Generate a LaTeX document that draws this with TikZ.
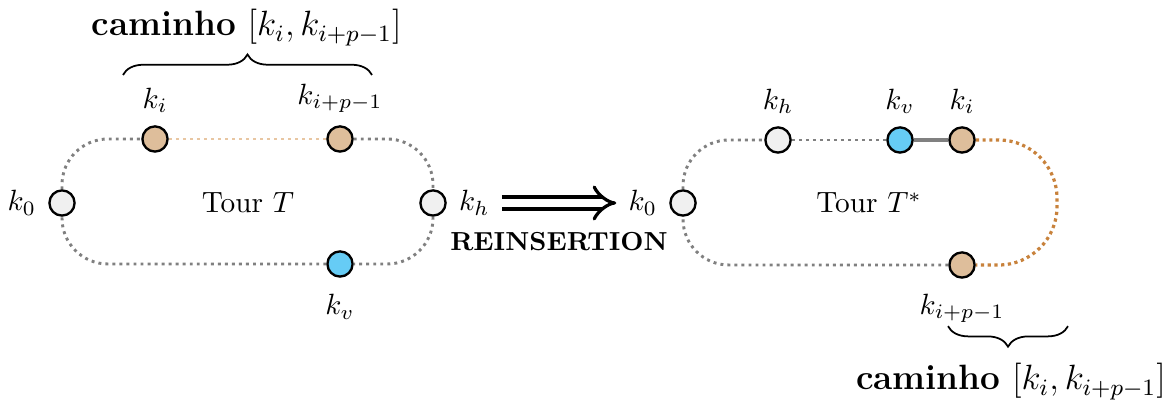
\documentclass[tikz,border=0pt]{standalone}
\usepackage{amsmath}
\usepackage{tikz}
\usetikzlibrary{positioning, arrows.meta, calc, decorations.pathreplacing}
\definecolor{myGray}{HTML}{F0F0F0}
\definecolor{myTan}{HTML}{DEBE9B}
\definecolor{mySky}{HTML}{66CCF5}
\definecolor{myEdge}{HTML}{808080}
\definecolor{myPeach}{HTML}{E8C6A2}
\definecolor{myRust}{HTML}{C8823C}

\begin{document}
\begin{tikzpicture}[
  city/.style={circle, draw=black, thick, minimum size=8.6pt, inner sep=0pt},
  lbl/.style={inner sep=2pt},
  tour/.style={myEdge, line width=1pt, dash pattern=on 1pt off 1.4pt,
               rounded corners=0.55cm},
  seg/.style={tour, myPeach},
  moved/.style={tour, myRust, line width=1.1pt, dash pattern=on 1.1pt off 1.2pt,
                rounded corners=0.7cm},
  link/.style={myEdge, line width=1.2pt},
  brc/.style={decorate, decoration={brace, amplitude=7pt}, semithick},
  implies/.style={double, line width=1.1pt, double distance=3pt, -{Implies[scale=1.7]},
                  shorten <=2pt, shorten >=2pt}
]
\useasboundingbox (0,0) rectangle (14.088,4.884);

% tour before
\node[city, fill=myGray] (k0)  at (0.744,2.448) {};
\node[city, fill=myTan]  (ki)  at (1.86,3.216)  {};
\node[city, fill=myTan]  (kip) at (4.08,3.216)  {};
\node[city, fill=myGray] (kh)  at (5.196,2.448) {};
\node[city, fill=mySky]  (kv)  at (4.08,1.716)  {};
\node[lbl, left=2pt of k0]   (k0lab)  {$k_0$};
\node[lbl, above=2pt of ki]  (kilab)  {$k_i$};
\node[lbl, above=2pt of kip] (kiplab) {$k_{i+p-1}$};
\node[lbl, right=2pt of kh]  (khlab)  {$k_h$};
\node[lbl, below=3.5pt of kv] (kvlab) {$k_v$};
\node (tour) at (2.976,2.448) {Tour $T$};

\draw[tour] (k0) |- (ki);
\draw[seg]  (ki) -- (kip);
\draw[tour] (kip) -| (kh);
\draw[tour] (kh) |- (kv);
\draw[tour] (kv) -| (k0);

\coordinate (bl) at (1.476,3.984);
\coordinate (br) at (4.464,3.984);
\draw[brc] (bl) -- (br);
\node[anchor=base, font=\large] (cam) at (2.96,4.452)
  {\textbf{caminho} $[k_i, k_{i+p-1}]$};

% tour after
\node[city, fill=myGray] (k0r)  at (8.196,2.448)  {};
\node[city, fill=myGray] (khr)  at (9.336,3.204)  {};
\node[city, fill=mySky]  (kvr)  at (10.8,3.204)   {};
\node[city, fill=myTan]  (kir)  at (11.544,3.204) {};
\node[city, fill=myTan]  (kipr) at (11.544,1.704) {};
\node[lbl, left=2pt of k0r]     (k0rlab)  {$k_0$};
\node[lbl, above=2pt of khr]    (khrlab)  {$k_h$};
\node[lbl, above=2pt of kvr]    (kvrlab)  {$k_v$};
\node[lbl, above=2pt of kir]    (kirlab)  {$k_i$};
\node[lbl, below=3pt of kipr]   (kiprlab) {$k_{i+p-1}$};
\node (tourr) at (10.43,2.448) {Tour $T^*$};
\coordinate (turn) at (12.684,3.204);

\draw[tour]  (k0r) |- (khr);
\draw[tour]  (khr) -- (kvr);
\draw[link]  (kvr) -- (kir);
\draw[moved] (kir) -- (turn) |- (kipr);
\draw[tour]  (kipr) -| (k0r);

\coordinate (bl2) at (12.816,0.97);
\coordinate (br2) at (11.376,0.97);
\draw[brc] (bl2) -- (br2);
\node[anchor=base, font=\large] (cam2) at (12.132,0.204)
  {\textbf{caminho} $[k_i, k_{i+p-1}]$};

% reinsertion step
\draw[implies] (khlab) -- node[below=6pt, font=\fontsize{8.9}{11}\selectfont\bfseries] (reins)
  {REINSERTION} (k0rlab);
\end{tikzpicture}
\end{document}
